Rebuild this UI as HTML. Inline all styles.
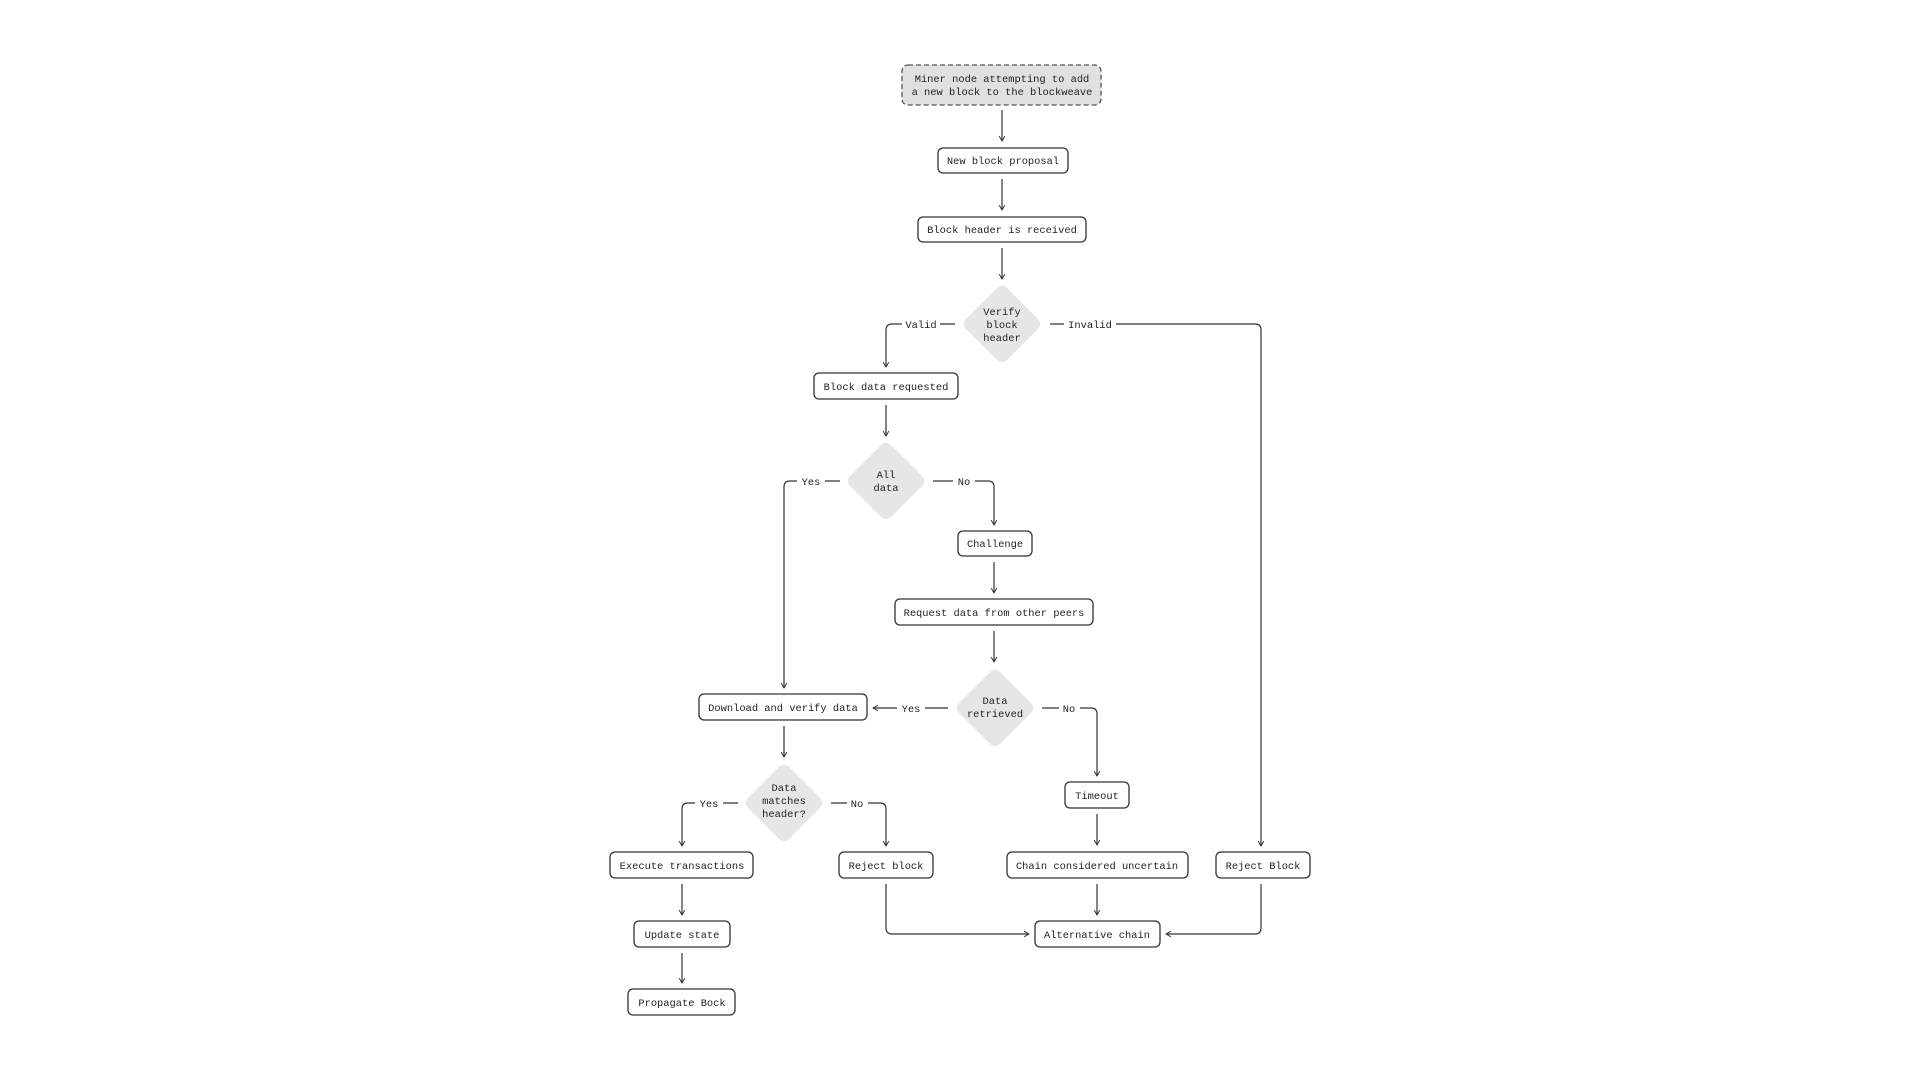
<!DOCTYPE html>
<html><head><meta charset="utf-8"><style>
html,body{margin:0;padding:0;background:#fff}
svg{display:block}
text{font-family:"Liberation Mono","DejaVu Sans Mono",monospace;font-size:10.4px;fill:#222}
.b{fill:#fff;stroke:#333;stroke-width:1.3}
.d{fill:#e6e6e6}
.l{fill:none;stroke:#333;stroke-width:1.2}
.lb{fill:#fff}
</style></head><body>
<svg width="1920" height="1080" viewBox="0 0 1920 1080" xmlns="http://www.w3.org/2000/svg">
<defs>
<marker id="a" viewBox="0 0 10 10" refX="9" refY="5" markerWidth="7" markerHeight="7" orient="auto" markerUnits="userSpaceOnUse">
<path d="M2,1 L9,5 L2,9" fill="none" stroke="#333" stroke-width="1.4"/>
</marker>
</defs>

<!-- connectors -->
<g class="l">
<path d="M1002,110 V141" marker-end="url(#a)"/>
<path d="M1002,179 V210" marker-end="url(#a)"/>
<path d="M1002,248 V279" marker-end="url(#a)"/>
<!-- Valid -->
<path d="M955,324 H892 Q886,324 886,330 V367" marker-end="url(#a)"/>
<!-- Invalid -->
<path d="M1050,324 H1255 Q1261,324 1261,330 V846" marker-end="url(#a)"/>
<path d="M886,405 V436" marker-end="url(#a)"/>
<!-- All data yes -->
<path d="M840,481 H790 Q784,481 784,487 V688" marker-end="url(#a)"/>
<!-- All data no -->
<path d="M933,481 H988 Q994,481 994,487 V525" marker-end="url(#a)"/>
<path d="M994,562 V593" marker-end="url(#a)"/>
<path d="M994,631 V662" marker-end="url(#a)"/>
<!-- Data retrieved yes -->
<path d="M948,708 H873" marker-end="url(#a)"/>
<!-- Data retrieved no -->
<path d="M1042,708 H1091 Q1097,708 1097,714 V776" marker-end="url(#a)"/>
<path d="M784,726 V757" marker-end="url(#a)"/>
<!-- Data matches yes -->
<path d="M738,803 H688 Q682,803 682,809 V846" marker-end="url(#a)"/>
<!-- Data matches no -->
<path d="M831,803 H880 Q886,803 886,809 V846" marker-end="url(#a)"/>
<path d="M1097,814 V845" marker-end="url(#a)"/>
<path d="M682,884 V915" marker-end="url(#a)"/>
<path d="M1097,884 V915" marker-end="url(#a)"/>
<path d="M682,953 V983" marker-end="url(#a)"/>
<path d="M886,884 V928 Q886,934 892,934 H1029" marker-end="url(#a)"/>
<path d="M1261,884 V928 Q1261,934 1255,934 H1166" marker-end="url(#a)"/>
</g>

<!-- label backgrounds -->
<g class="lb">
<rect x="902" y="317" width="38" height="14"/>
<rect x="1064" y="317" width="52" height="14"/>
<rect x="797" y="474" width="28" height="14"/>
<rect x="953" y="474" width="22" height="14"/>
<rect x="897" y="701" width="28" height="14"/>
<rect x="1059" y="701" width="21" height="14"/>
<rect x="695" y="796" width="28" height="14"/>
<rect x="847" y="796" width="21" height="14"/>
</g>
<g text-anchor="middle">
<text x="921" y="328">Valid</text>
<text x="1090" y="328">Invalid</text>
<text x="811" y="485">Yes</text>
<text x="964" y="485">No</text>
<text x="911" y="712">Yes</text>
<text x="1069" y="712">No</text>
<text x="709" y="807">Yes</text>
<text x="857" y="807">No</text>
</g>

<!-- start node -->
<rect x="902" y="65" width="199" height="40" rx="6" fill="#e0e0e0" stroke="#555" stroke-width="1.3" stroke-dasharray="5,3"/>
<g text-anchor="middle">
<text x="1002" y="82">Miner node attempting to add</text>
<text x="1002" y="95">a new block to the blockweave</text>
</g>

<!-- boxes -->
<g>
<rect class="b" x="938" y="148" width="130" height="25" rx="5"/>
<rect class="b" x="918" y="217" width="168" height="25" rx="5"/>
<rect class="b" x="814" y="373" width="144" height="26" rx="5"/>
<rect class="b" x="958" y="531" width="74" height="25" rx="5"/>
<rect class="b" x="895" y="599" width="198" height="26" rx="5"/>
<rect class="b" x="699" y="694" width="168" height="26" rx="5"/>
<rect class="b" x="1065" y="782" width="64" height="26" rx="5"/>
<rect class="b" x="610" y="852" width="143" height="26" rx="5"/>
<rect class="b" x="839" y="852" width="94" height="26" rx="5"/>
<rect class="b" x="1007" y="852" width="181" height="26" rx="5"/>
<rect class="b" x="1216" y="852" width="94" height="26" rx="5"/>
<rect class="b" x="634" y="921" width="96" height="26" rx="5"/>
<rect class="b" x="1035" y="921" width="125" height="26" rx="5"/>
<rect class="b" x="628" y="989" width="107" height="26" rx="5"/>
</g>
<g text-anchor="middle">
<text x="1003" y="164">New block proposal</text>
<text x="1002" y="233">Block header is received</text>
<text x="886" y="390">Block data requested</text>
<text x="995" y="547">Challenge</text>
<text x="994" y="616">Request data from other peers</text>
<text x="783" y="711">Download and verify data</text>
<text x="1097" y="799">Timeout</text>
<text x="682" y="869">Execute transactions</text>
<text x="886" y="869">Reject block</text>
<text x="1097" y="869">Chain considered uncertain</text>
<text x="1263" y="869">Reject Block</text>
<text x="682" y="938">Update state</text>
<text x="1097" y="938">Alternative chain</text>
<text x="682" y="1006">Propagate Bock</text>
</g>

<!-- diamonds -->
<g class="d">
<rect x="973" y="295" width="58" height="58" rx="7" transform="rotate(45 1002 324)"/>
<rect x="857" y="452" width="58" height="58" rx="7" transform="rotate(45 886 481)"/>
<rect x="966" y="679" width="58" height="58" rx="7" transform="rotate(45 995 708)"/>
<rect x="755" y="774" width="58" height="58" rx="7" transform="rotate(45 784 803)"/>
</g>
<g text-anchor="middle">
<text x="1002" y="315">Verify</text>
<text x="1002" y="328">block</text>
<text x="1002" y="341">header</text>
<text x="886" y="478">All</text>
<text x="886" y="491">data</text>
<text x="995" y="704">Data</text>
<text x="995" y="717">retrieved</text>
<text x="784" y="791">Data</text>
<text x="784" y="804">matches</text>
<text x="784" y="817">header?</text>
</g>
</svg>
</body></html>
